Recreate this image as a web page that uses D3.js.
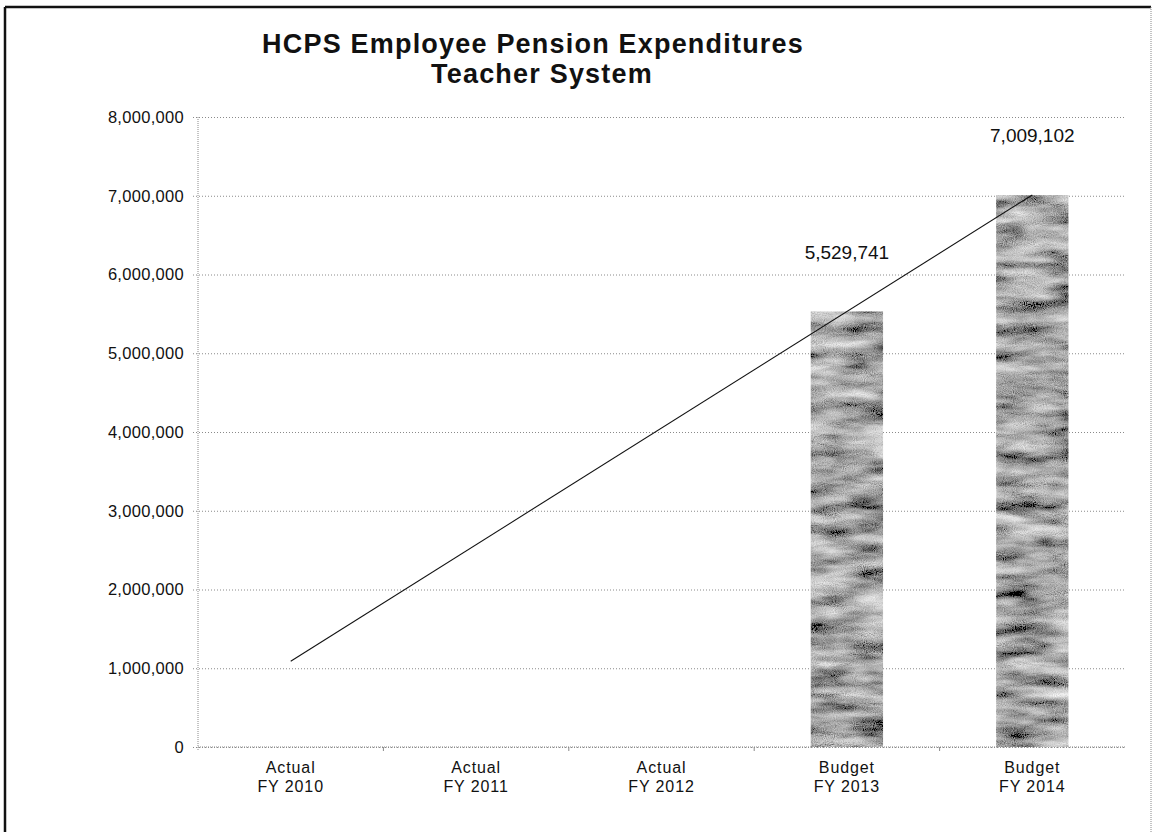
<!DOCTYPE html>
<html>
<head>
<meta charset="utf-8">
<script src="https://cdn.jsdelivr.net/npm/d3@7"></script>
<style>
  html, body { margin: 0; padding: 0; background: #fff; }
  svg { display: block; }
  text { font-family: "Liberation Sans", Arial, sans-serif; fill: #111; }
</style>
</head>
<body>
<div id="chart"></div>
<script>
// ---- data ----
const categories = ["Actual FY 2010", "Actual FY 2011", "Actual FY 2012", "Budget FY 2013", "Budget FY 2014"];
const barValues = [null, null, null, 5529741, 7009102];
const trendCategories = ["Actual FY 2010", "Budget FY 2014"];
const trendValues = [1090000, 7010000];
const yTickValues = [0, 1000000, 2000000, 3000000, 4000000, 5000000, 6000000, 7000000, 8000000];
const titleLines = ["HCPS Employee Pension Expenditures", "Teacher System"];

const W = 1153, H = 832;
const plot = { left: 198, right: 1125, top: 117, bottom: 747 };

const svg = d3.select("#chart").append("svg")
  .attr("width", W)
  .attr("height", H);

// texture for the scanned-looking bars: coarse streaks plus fine grain
const defs = svg.append("defs");
const filt = defs.append("filter")
  .attr("id", "barTex")
  .attr("x", 0).attr("y", 0).attr("width", 1).attr("height", 1);
filt.append("feTurbulence")
  .attr("type", "fractalNoise")
  .attr("baseFrequency", "0.02 0.08")
  .attr("numOctaves", 3)
  .attr("seed", 11)
  .attr("result", "coarse");
filt.append("feTurbulence")
  .attr("type", "fractalNoise")
  .attr("baseFrequency", "0.9 0.9")
  .attr("numOctaves", 1)
  .attr("seed", 4)
  .attr("result", "fine");
filt.append("feComposite")
  .attr("in", "coarse").attr("in2", "fine")
  .attr("operator", "arithmetic")
  .attr("k1", 0).attr("k2", 0.75).attr("k3", 0.35).attr("k4", -0.05)
  .attr("result", "mix");
filt.append("feColorMatrix")
  .attr("in", "mix")
  .attr("type", "matrix")
  .attr("values", "1.5 0 0 0 -0.3  1.5 0 0 0 -0.3  1.5 0 0 0 -0.3  0 0 0 0 1")
  .attr("result", "gray");
filt.append("feComposite")
  .attr("in", "gray")
  .attr("in2", "SourceAlpha")
  .attr("operator", "in");

// frame, heavy top/left like the scan
svg.append("line").attr("x1", 5).attr("y1", 7).attr("x2", 1151).attr("y2", 7)
  .attr("stroke", "#111").attr("stroke-width", 2.5);
svg.append("line").attr("x1", 5).attr("y1", 7).attr("x2", 5).attr("y2", 832)
  .attr("stroke", "#111").attr("stroke-width", 2.5);
svg.append("line").attr("x1", 1151).attr("y1", 7).attr("x2", 1151).attr("y2", 832)
  .attr("stroke", "#888").attr("stroke-width", 1).attr("stroke-dasharray", "1,1");

// scales
const x = d3.scaleBand()
  .domain(categories)
  .range([plot.left, plot.right])
  .paddingInner(0.61)
  .paddingOuter(0.305);
const xPos = d3.scalePoint()
  .domain(categories)
  .range([plot.left, plot.right])
  .padding(0.5);
const y = d3.scaleLinear()
  .domain([0, 8000000])
  .range([plot.bottom, plot.top]);

// gridlines + y axis
const yAxis = d3.axisLeft(y)
  .tickValues(yTickValues)
  .tickFormat(d3.format(","))
  .tickSize(-(plot.right - plot.left) - 5)
  .tickPadding(10);
const gy = svg.append("g")
  .attr("transform", `translate(${plot.left - 5},0)`)
  .call(yAxis);
gy.select(".domain").remove();
gy.selectAll(".tick line")
  .attr("stroke", "#8a8a8a")
  .attr("stroke-dasharray", "1,2");
gy.selectAll(".tick text")
  .attr("x", -9)
  .style("font-size", "16.5px")
  .style("letter-spacing", "0.3px")
  .attr("fill", "#111");

svg.append("line")
  .attr("x1", plot.left).attr("x2", plot.left)
  .attr("y1", plot.top).attr("y2", plot.bottom + 4)
  .attr("stroke", "#8a8a8a").attr("stroke-dasharray", "1,1");

// x axis with category boundary ticks
const gx = svg.append("g")
  .attr("transform", `translate(0,${plot.bottom})`);
gx.append("line")
  .attr("x1", plot.left).attr("x2", plot.right)
  .attr("stroke", "#8a8a8a").attr("stroke-dasharray", "1,1");
gx.selectAll("line.bound")
  .data(categories.slice(1))
  .join("line")
  .attr("class", "bound")
  .attr("x1", d => x(d) - x.step() * x.paddingInner() / 2)
  .attr("x2", d => x(d) - x.step() * x.paddingInner() / 2)
  .attr("y1", 0).attr("y2", 4)
  .attr("stroke", "#8a8a8a");

const xLabels = svg.append("g");
categories.forEach(c => {
  const parts = c.split(" ");
  const t = xLabels.append("text")
    .attr("x", xPos(c))
    .attr("y", 773)
    .attr("text-anchor", "middle")
    .style("font-size", "16px")
    .style("letter-spacing", "0.9px");
  t.append("tspan").attr("x", xPos(c)).text(parts[0]);
  t.append("tspan").attr("x", xPos(c)).attr("dy", 19).text(parts.slice(1).join(" "));
});

// bars
const barData = categories.map((c, i) => ({ c, v: barValues[i] })).filter(d => d.v != null);
svg.append("g").selectAll("rect")
  .data(barData)
  .join("rect")
  .attr("x", d => x(d.c))
  .attr("width", x.bandwidth())
  .attr("y", d => y(d.v))
  .attr("height", d => y(0) - y(d.v))
  .attr("fill", "#7d7d7d")
  .attr("filter", "url(#barTex)");

// value labels
svg.append("g").selectAll("text")
  .data(barData)
  .join("text")
  .attr("x", d => xPos(d.c))
  .attr("y", d => y(d.v) - 53)
  .attr("text-anchor", "middle")
  .style("font-size", "19px")
  .text(d => d3.format(",")(d.v));

// linear trend line
const trend = trendCategories.map((c, i) => [xPos(c), y(trendValues[i])]);
svg.append("path")
  .attr("d", d3.line()(trend))
  .attr("fill", "none")
  .attr("stroke", "#111")
  .attr("stroke-width", 1.1);

// title
svg.append("text")
  .attr("x", 533).attr("y", 53)
  .attr("text-anchor", "middle")
  .style("font-size", "27px")
  .style("font-weight", "bold")
  .style("letter-spacing", "1.2px")
  .text(titleLines[0]);
svg.append("text")
  .attr("x", 542).attr("y", 83)
  .attr("text-anchor", "middle")
  .style("font-size", "27px")
  .style("font-weight", "bold")
  .style("letter-spacing", "1.2px")
  .text(titleLines[1]);
</script>
</body>
</html>
